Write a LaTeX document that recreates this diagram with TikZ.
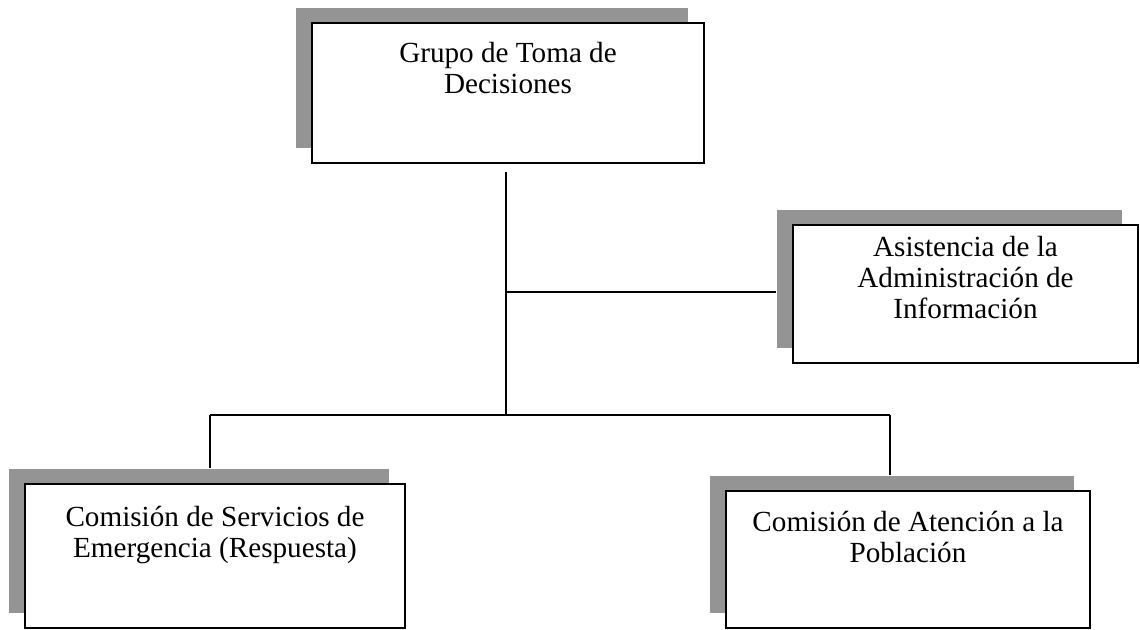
\documentclass[tikz,border=0pt]{standalone}
\usepackage{fontspec}
\setmainfont{Liberation Serif}
\usetikzlibrary{shadows,positioning}

\begin{document}
\begin{tikzpicture}[
box/.style={rectangle, draw, semithick, fill=white,
  general shadow={fill=black!42, shadow xshift=-0.32cm, shadow yshift=0.3cm}},
txt/.style={align=center, inner sep=0pt, font=\fontsize{16.6}{17.8}\selectfont},
point/.style={coordinate},
]
\useasboundingbox (0,0) rectangle (22.8,12.58);
%boxes
\node (grupo) [box, minimum width=7.84cm, minimum height=2.8cm] at (10.16,10.72) {};
\node (asist) [box, minimum width=6.9cm, minimum height=2.76cm] at (19.31,6.70) {};
\node (emerg) [box, minimum width=7.6cm, minimum height=2.88cm] at (4.30,1.46) {};
\node (pobl) [box, minimum width=7.28cm, minimum height=2.74cm] at (18.16,1.39) {};
%texts
\node (grupotxt) [txt, below=0.38cm of grupo.north] {Grupo de Toma de\\Decisiones};
\node (asisttxt) [txt, below=0.22cm of asist.north] {Asistencia de la\\Administración de\\Información};
\node (emergtxt) [txt, below=0.45cm of emerg.north] {Comisión de Servicios de\\Emergencia (Respuesta)};
\node (pobltxt) [txt, below=0.4cm of pobl.north] {Comisión de Atención a la\\Población};
%lines
\node (p1) [point] at (10.12,9.14) {};
\node (p2) [point] at (10.12,6.74) {};
\node (p3) [point] at (10.12,4.28) {};
\node (p4) [point] at (4.2,4.28) {};
\node (p5) [point] at (17.8,4.28) {};
\draw [semithick] (p1)--(p3);
\draw [semithick] (p2)--([xshift=-0.32cm]p2 -| asist.west);
\draw [semithick] (p4)--(p5);
\draw [semithick] (p4)--([yshift=0.3cm]p4 |- emerg.north);
\draw [semithick] (p5)--([yshift=0.3cm]p5 |- pobl.north);
\end{tikzpicture}
\end{document}
